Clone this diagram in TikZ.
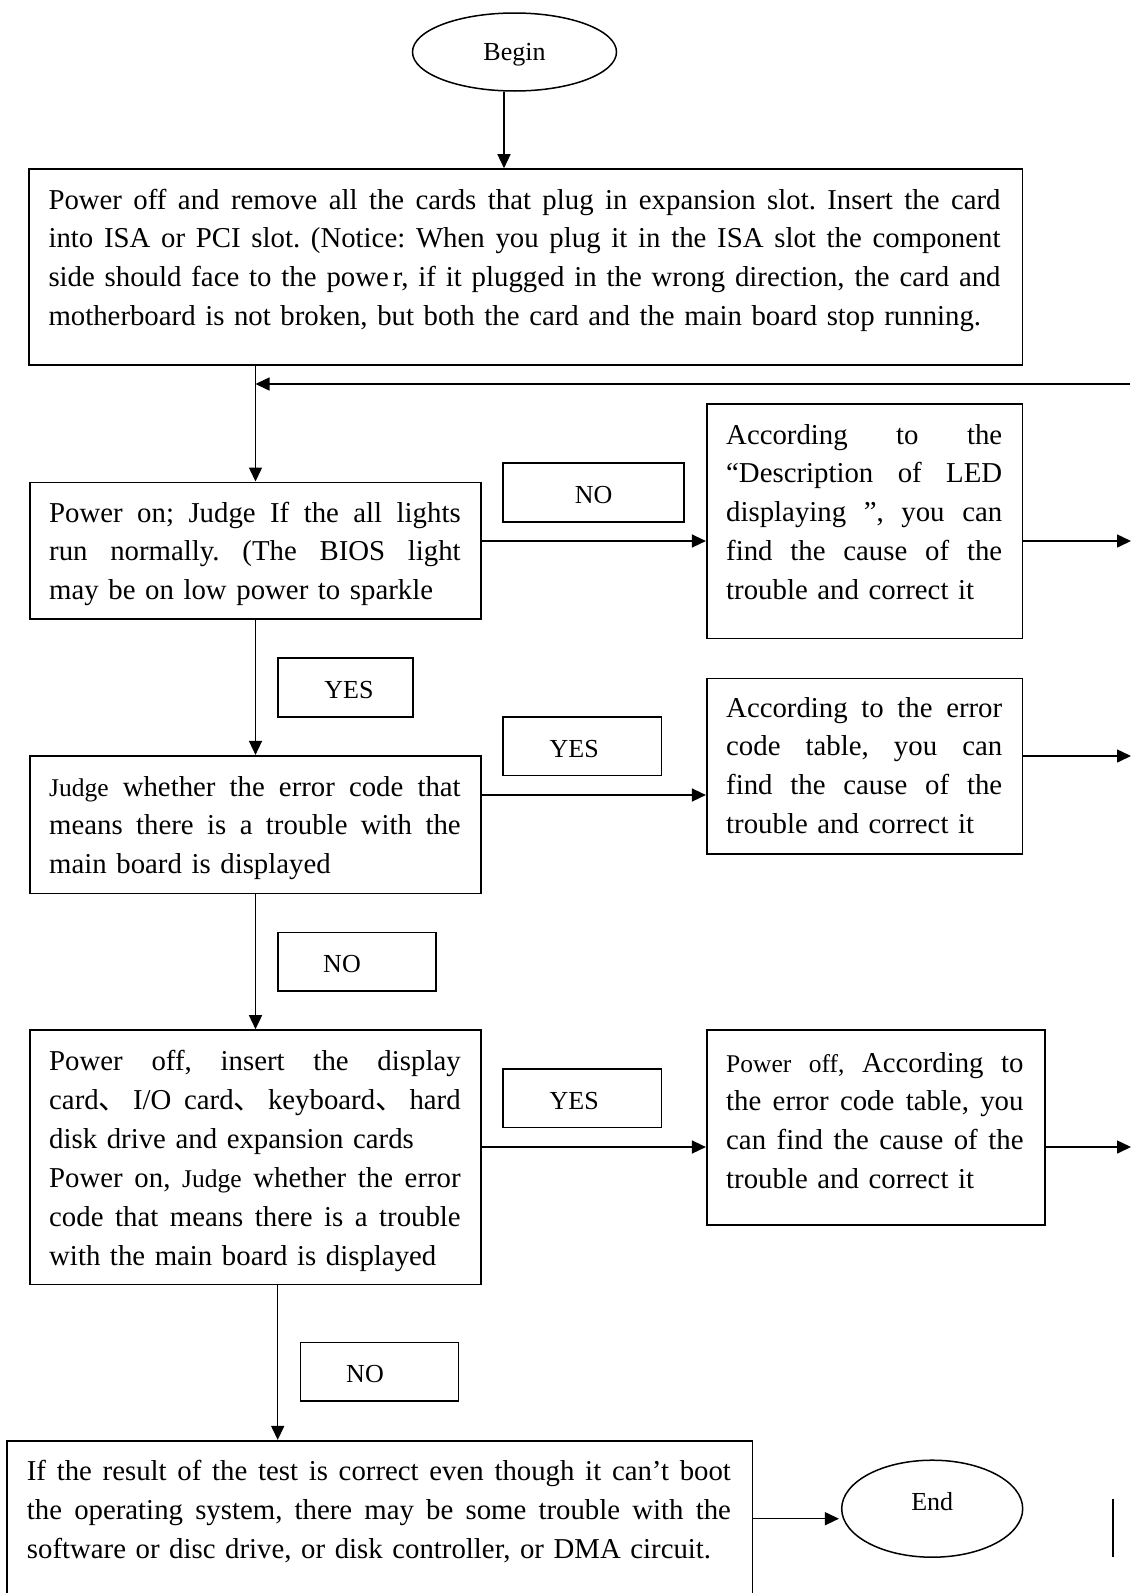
\documentclass[tikz,border=0pt]{standalone}
\usepackage{fontspec}
\setmainfont{Liberation Serif}
\newfontfamily\cjkfont{Noto Sans CJK SC}
\usetikzlibrary{arrows.meta,shapes.geometric,fit}
\frenchspacing
\newcommand{\lw}{100pt}
\newcommand{\jusline}[1]{\hbox to \lw{\spaceskip=0.25em plus 1fil minus 0.08em\relax #1}\par}
\newcommand{\natline}[1]{\hbox to \lw{#1\hss}\par}
\newcommand{\smf}[1]{{\fontsize{25.5}{38.9}\selectfont #1}}
\newcommand{\dun}{{\cjkfont 、}\hskip 0pt plus 1fil\relax}
\newcommand{\lt}[1]{\raisebox{-2.5pt}[\height][\depth]{#1}}
\begin{document}
\begin{tikzpicture}[x=1pt,y=-1pt,
  box/.style={draw, line width=1.6pt, inner sep=0pt},
  lab/.style={draw, line width=1.6pt, inner sep=0pt, rectangle, font=\fontsize{26}{30}\selectfont},
  ell/.style={draw, ellipse, line width=1.5pt, inner sep=0pt, font=\fontsize{26}{30}\selectfont},
  txt/.style={inner sep=0pt, anchor=base west, text width=#1, font=\fontsize{28.8}{38.9}\selectfont,
    execute at begin node={\renewcommand{\lw}{#1pt}}},
  arr/.style={line width=1.5pt, -{Triangle[length=14pt,width=13pt]}}]
\useasboundingbox (0,0) rectangle (1130,1593);

% terminals
\node[ell, minimum width=204, minimum height=78] (begin) at (514.5,52) {\raisebox{-3pt}[\height][\depth]{Begin}};
\node[ell, minimum width=181, minimum height=97] (end) at (932.2,1508.7) {\raisebox{7pt}[\height][\depth]{End}};

% boxes
\node[box, fit={(28.8,169) (1022.6,365)}] (box1) {};
\node[box, fit={(29.8,482.3) (481.2,619)}] (box2) {};
\node[box, fit={(706.7,404) (1022.5,638.5)}] (box3) {};
\node[box, fit={(29.8,755.7) (481.2,893.3)}] (box4) {};
\node[box, fit={(706.7,678.5) (1022.5,854)}] (box5) {};
\node[box, fit={(29.8,1030) (481.2,1284.5)}] (box6) {};
\node[box, fit={(706.7,1030) (1045,1225)}] (box7) {};
\node[box, fit={(6.8,1440.7) (752.3,1615)}] (box8) {};

% labels
\node[lab, minimum width=181, minimum height=59] (lno1) at (593.6,492.5) {\lt{NO}};
\node[lab, minimum width=135.2, minimum height=58.7] (lyes1) at (345.4,687.6) {\lt{\hspace*{7pt}YES}};
\node[lab, minimum width=158.8, minimum height=58.7] (lyes2) at (582.2,746.3) {\lt{\hspace*{-16pt}YES}};
\node[lab, minimum width=158.4, minimum height=58.4] (lno2) at (357,961.5) {\lt{\hspace*{-30pt}NO}};
\node[lab, minimum width=158.8, minimum height=58.7] (lyes3) at (582.2,1098.3) {\lt{\hspace*{-16pt}YES}};
\node[lab, minimum width=158.1, minimum height=58.3] (lno3) at (379.5,1371.8) {\lt{\hspace*{-29pt}NO}};

% texts
\node[txt=952] (t1) at (48.3,209) {%
\jusline{Power off and remove all the cards that plug in expansion slot. Insert the card}%
\jusline{into ISA or PCI slot. (Notice: When you plug it in the ISA slot the component}%
\jusline{side should face to the powe\kern4pt r, if it plugged in the wrong direction, the card and}%
\natline{motherboard is not broken, but both the card and the main board stop running.}};

\node[txt=411.5] (t2) at (49,522) {%
\jusline{Power on; Judge If the all lights}%
\jusline{run normally. (The BIOS light}%
\natline{may be on low power to sparkle}};

\node[txt=276] (t3) at (726,444) {%
\jusline{According to the}%
\jusline{“Description of LED}%
\jusline{displaying ”, you can}%
\jusline{find the cause of the}%
\natline{trouble and correct it}};

\node[txt=411.5] (t4) at (49,796) {%
\jusline{\smf{Judge} whether the error code that}%
\jusline{means there is a trouble with the}%
\natline{main board is displayed}};

\node[txt=276] (t5) at (726,717) {%
\jusline{According to the error}%
\jusline{code table, you can}%
\jusline{find the cause of the}%
\natline{trouble and correct it}};

\node[txt=411.5] (t6) at (49,1070.5) {%
\jusline{Power off, insert the display}%
\jusline{card\dun I/O card\dun keyboard\dun hard}%
\natline{disk drive and expansion cards}%
\jusline{Power on, \smf{Judge} whether the error}%
\jusline{code that means there is a trouble}%
\natline{with the main board is displayed}};

\node[txt=297.3] (t7) at (726,1072) {%
\jusline{\smf{Power off,} According to}%
\jusline{the error code table, you}%
\jusline{can find the cause of the}%
\natline{trouble and correct it}};

\node[txt=704] (t8) at (26.7,1480.5) {%
\jusline{If the result of the test is correct even though it can’t boot}%
\jusline{the operating system, there may be some trouble with the}%
\natline{software or disc drive, or disk controller, or DMA circuit.}};

% helper coordinates
\coordinate (fb) at (1130,384);
\coordinate (r1) at (1131,541);
\coordinate (r2) at (1131,756);
\coordinate (r3) at (1131,1147);
\coordinate (y45) at (0,795);
\coordinate (x68) at (277.7,0);
\coordinate (y8e) at (0,1518.7);
\coordinate (xb) at (504,0);

% connectors
\draw[arr] (begin.south -| xb) -- (box1.north -| xb);
\draw[line width=1.5pt] (box1.south -| box2.north) -- (fb -| box2.north);
\draw[arr] (fb -| box2.north) -- (box2.north);
\draw[arr] (fb) -- (fb -| box2.north);
\draw[arr] (box2.east |- r1) -- (box3.west |- r1);
\draw[arr] (box3.east |- r1) -- (r1);
\draw[arr] (box2.south) -- (box4.north);
\draw[arr] (box4.east |- y45) -- (box5.west |- y45);
\draw[arr] (box5.east |- r2) -- (r2);
\draw[arr] (box4.south) -- (box6.north);
\draw[arr] (box6.east |- r3) -- (box7.west |- r3);
\draw[arr] (box7.east |- r3) -- (r3);
\draw[arr] (box6.south -| x68) -- (box8.north -| x68);
\draw[arr] (box8.east |- y8e) -- ([xshift=-2pt]end.west |- y8e);

% stray mark
\draw[line width=1.8pt] (1112.7,1499) -- (1112.7,1557.3);
\end{tikzpicture}
\end{document}
